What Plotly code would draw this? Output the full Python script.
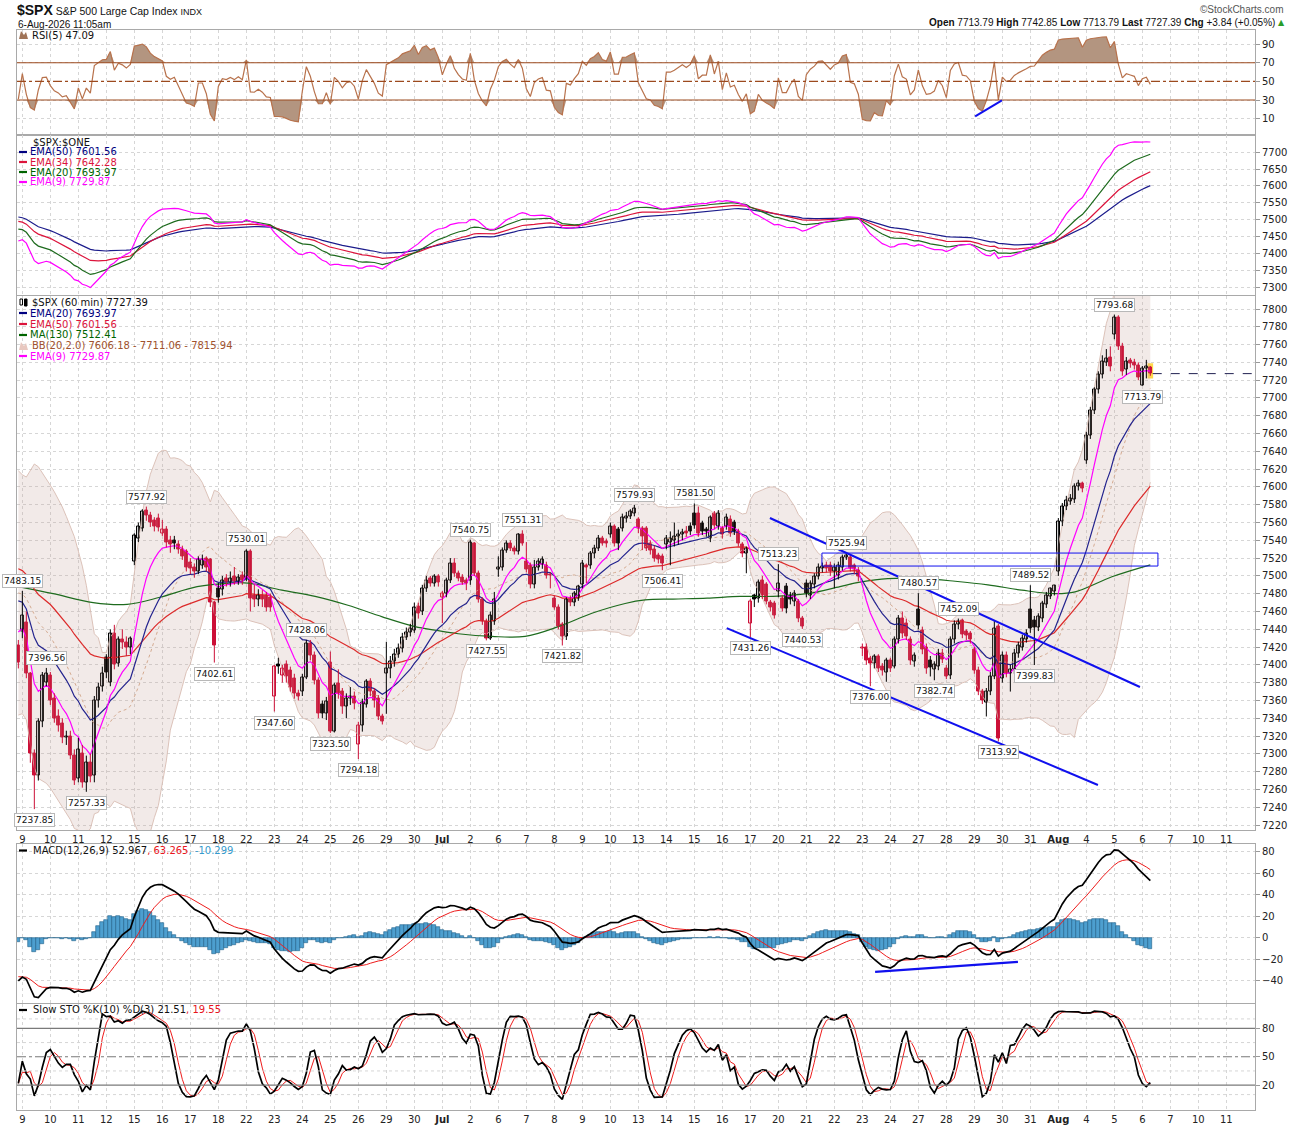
import numpy as np
import pandas as pd
import plotly.graph_objects as go

# ---- data --------------------------------------------------------------
# bar 0 is the last hourly bar of 8-Jun, each session has 7 hourly bars
day_labels = ["9", "10", "11", "12", "15", "16", "17", "18", "22", "23", "24", "25", "26",
              "29", "30", "<b>Jul</b>", "2", "6", "7", "8", "9", "10", "13", "14", "15", "16",
              "17", "20", "21", "22", "23", "24", "27", "28", "29", "30", "31", "<b>Aug</b>",
              "4", "5", "6", "7", "10", "11"]

opens = [
    7422, 7437, 7448, 7390, 7300, 7276, 7336, 7380, 7388, 7362,
    7342, 7334, 7318, 7320, 7298, 7272, 7300, 7268, 7290, 7276,
    7360, 7376, 7408, 7380, 7435, 7402, 7428, 7425, 7420, 7516,
    7542, 7553, 7574, 7568, 7562, 7565, 7548, 7552, 7540, 7540,
    7535, 7530, 7527, 7515, 7510, 7505, 7512, 7520, 7518, 7470,
    7486, 7485, 7497, 7493, 7499, 7494, 7500, 7497, 7528, 7478,
    7474, 7478, 7478, 7476, 7364, 7400, 7388, 7400, 7394, 7385,
    7368, 7370, 7386, 7424, 7411, 7383, 7356, 7345, 7403, 7325,
    7379, 7370, 7353, 7362, 7365, 7310, 7332, 7355, 7381, 7370,
    7362, 7342, 7390, 7396, 7404, 7412, 7418, 7431, 7436, 7439,
    7466, 7460, 7486, 7497, 7492, 7499, 7476, 7480, 7495, 7514,
    7503, 7498, 7495, 7495, 7536, 7503, 7473, 7449, 7430, 7449,
    7507, 7510, 7529, 7537, 7531, 7527, 7546, 7516, 7512, 7490,
    7510, 7513, 7512, 7502, 7475, 7465, 7445, 7432, 7473, 7470,
    7475, 7490, 7512, 7512, 7525, 7531, 7542, 7539, 7546, 7555,
    7552, 7553, 7564, 7567, 7570, 7563, 7553, 7553, 7537, 7530,
    7523, 7522, 7535, 7538, 7540, 7544, 7546, 7550, 7556, 7570,
    7570, 7559, 7552, 7542, 7570, 7556, 7553, 7555, 7563, 7560,
    7550, 7535, 7525, 7447, 7478, 7475, 7495, 7490, 7470, 7469,
    7482, 7475, 7488, 7478, 7471, 7471, 7452, 7492, 7478, 7490,
    7499, 7508, 7512, 7512, 7505, 7500, 7510, 7521, 7521, 7512,
    7506, 7418, 7420, 7407, 7402, 7409, 7398, 7392, 7405, 7398,
    7428, 7452, 7447, 7428, 7404, 7462, 7439, 7420, 7405, 7395,
    7398, 7413, 7396, 7388, 7428, 7445, 7450, 7437, 7435, 7417,
    7394, 7370, 7358, 7370, 7387, 7443, 7385, 7411, 7390, 7395,
    7413, 7420, 7428, 7462, 7450, 7442, 7452, 7468, 7477, 7482,
    7505, 7561, 7578, 7584, 7586, 7600, 7604, 7630, 7658, 7686,
    7709, 7726, 7740, 7745, 7771, 7791, 7758, 7732, 7742, 7740,
    7737, 7713.79, 7733, 7734]

highs = [
    7428, 7483.15, 7460, 7392, 7305, 7340, 7392, 7396.56, 7392, 7368,
    7350, 7340, 7326, 7326, 7305, 7318, 7310, 7298, 7300, 7365,
    7380, 7398, 7412, 7440, 7445, 7432, 7440, 7432, 7432, 7548,
    7560, 7575, 7577.92, 7572, 7566, 7570, 7563, 7556, 7545, 7545,
    7540, 7534, 7530, 7520, 7514, 7522, 7524, 7522, 7520, 7472,
    7492, 7500, 7502, 7505, 7510, 7502, 7505, 7530.01, 7530, 7490,
    7485, 7484, 7482, 7480, 7400, 7408, 7400, 7405, 7398, 7390,
    7372, 7390, 7428.06, 7428, 7415, 7386, 7360, 7364, 7415, 7380,
    7395, 7374, 7368, 7375, 7370, 7336, 7362, 7384, 7385, 7374,
    7366, 7345, 7426, 7410, 7418, 7424, 7436, 7442, 7446, 7470,
    7470, 7490, 7500, 7500, 7502, 7502, 7483, 7498, 7520, 7520,
    7506, 7502, 7498, 7540.75, 7538, 7506, 7476, 7452, 7460, 7482,
    7522, 7532, 7540, 7540, 7534, 7548, 7551.31, 7538, 7515, 7518,
    7520, 7522, 7516, 7504, 7478, 7468, 7448, 7476, 7478, 7483,
    7490, 7518, 7514, 7528, 7535, 7546, 7545, 7542, 7560, 7558,
    7555, 7570, 7572, 7575, 7579.93, 7566, 7556, 7556, 7540, 7534,
    7526, 7525, 7546, 7550, 7560, 7552, 7553, 7556, 7560, 7581.50,
    7578, 7562, 7555, 7568, 7573, 7574, 7556, 7570, 7568, 7563,
    7553, 7538, 7533, 7474, 7480, 7496, 7500, 7493, 7473, 7472,
    7513.23, 7478, 7492, 7482, 7484, 7474, 7455, 7496, 7495, 7503,
    7514, 7515, 7516, 7516, 7514, 7516, 7524, 7525.94, 7524, 7514,
    7510, 7424, 7424, 7410, 7412, 7412, 7402, 7408, 7408, 7432,
    7456, 7460, 7452, 7432, 7414, 7480.57, 7443, 7424, 7410, 7404,
    7418, 7418, 7400, 7432, 7450, 7452.09, 7452, 7440, 7438, 7420,
    7398, 7373, 7374, 7392, 7450, 7446, 7415, 7415, 7400, 7418,
    7426, 7434, 7440, 7489.52, 7455, 7458, 7472, 7482, 7487, 7490,
    7565, 7582, 7590, 7592, 7604, 7608, 7606, 7662, 7690, 7712,
    7730, 7748, 7755, 7758, 7793.68, 7793, 7762, 7746, 7745, 7744,
    7740, 7736, 7742.85, 7736]

lows = [
    7396, 7430, 7385, 7290, 7237.85, 7270, 7330, 7376, 7355, 7335,
    7325, 7312, 7310, 7294, 7265, 7268, 7262, 7257.33, 7268, 7268,
    7352, 7370, 7385, 7376, 7395, 7398, 7418, 7410, 7412, 7512,
    7538, 7550, 7562, 7555, 7550, 7550, 7545, 7532, 7526, 7530,
    7525, 7518, 7505, 7502, 7498, 7502, 7508, 7505, 7465, 7402.61,
    7470, 7478, 7488, 7488, 7490, 7490, 7490, 7494, 7460, 7465,
    7466, 7465, 7460, 7460, 7347.60, 7390, 7380, 7380, 7370, 7362,
    7360, 7365, 7384, 7405, 7378, 7340, 7340, 7338, 7323.50, 7324,
    7362, 7345, 7340, 7355, 7350, 7294.18, 7325, 7352, 7365, 7352,
    7338, 7333, 7345, 7385, 7398, 7408, 7414, 7428, 7432, 7436,
    7452, 7456, 7482, 7488, 7488, 7488, 7447, 7476, 7492, 7499,
    7494, 7490, 7484, 7490, 7500, 7470, 7445, 7427.55, 7428, 7445,
    7499, 7506, 7526, 7528, 7524, 7524, 7534, 7504, 7486, 7486,
    7506, 7508, 7497, 7486, 7462, 7440, 7421.82, 7428, 7466, 7466,
    7472, 7486, 7492, 7508, 7520, 7528, 7534, 7532, 7543, 7533,
    7529, 7550, 7560, 7564, 7567, 7548, 7529, 7528, 7524, 7516,
    7514, 7506.41, 7530, 7512, 7533, 7535, 7540, 7544, 7546, 7553,
    7544, 7546, 7544, 7538, 7553, 7552, 7542, 7552, 7544, 7546,
    7533, 7521, 7503, 7431.26, 7465, 7470, 7474, 7468, 7460, 7452,
    7476, 7460, 7458, 7468, 7466, 7448, 7440.53, 7476, 7474, 7486,
    7496, 7504, 7504, 7500, 7486, 7496, 7506, 7518, 7505, 7502,
    7494, 7410, 7400, 7376.00, 7396, 7392, 7388, 7381, 7392, 7396,
    7424, 7430, 7428, 7400, 7398, 7440, 7412, 7390, 7387, 7382.74,
    7394, 7402, 7384, 7384, 7424, 7440, 7430, 7428, 7424, 7390,
    7366, 7356, 7342, 7366, 7384, 7313.92, 7380, 7386, 7370, 7390,
    7408, 7416, 7425, 7436, 7399.83, 7438, 7448, 7464, 7474, 7478,
    7500, 7556, 7574, 7580, 7582, 7596, 7594, 7626, 7654, 7682,
    7705, 7722, 7736, 7730, 7766, 7754, 7725, 7726, 7734, 7732,
    7720, 7713.79, 7722, 7725]

closes = [
    7403, 7456, 7390, 7300, 7276, 7336, 7388, 7390, 7360, 7340,
    7332, 7318, 7320, 7298, 7270, 7305, 7268, 7290, 7275, 7360,
    7375, 7390, 7392, 7435, 7400, 7428, 7425, 7420, 7430, 7545,
    7555, 7572, 7568, 7560, 7556, 7554, 7552, 7538, 7535, 7537,
    7530, 7522, 7510, 7508, 7505, 7518, 7518, 7510, 7470, 7422,
    7476, 7495, 7493, 7497, 7494, 7498, 7495, 7528, 7475, 7474,
    7478, 7473, 7465, 7464, 7398, 7398, 7396, 7387, 7375, 7368,
    7364, 7386, 7424, 7411, 7383, 7345, 7345, 7359, 7325, 7377,
    7368, 7353, 7362, 7364, 7357, 7332, 7358, 7381, 7370, 7360,
    7342, 7336, 7396, 7404, 7412, 7418, 7431, 7436, 7441, 7465,
    7458, 7486, 7495, 7492, 7499, 7493, 7480, 7495, 7514, 7503,
    7497, 7493, 7492, 7538, 7503, 7473, 7449, 7430, 7456, 7474,
    7510, 7529, 7537, 7531, 7527, 7546, 7537, 7507, 7490, 7510,
    7516, 7518, 7501, 7500, 7465, 7443, 7432, 7473, 7470, 7480,
    7488, 7514, 7510, 7525, 7531, 7542, 7537, 7536, 7555, 7537,
    7537, 7566, 7567, 7572, 7576, 7553, 7544, 7531, 7529, 7520,
    7518, 7514, 7542, 7542, 7544, 7547, 7549, 7548, 7550, 7557,
    7548, 7550, 7550, 7566, 7557, 7570, 7546, 7566, 7548, 7550,
    7537, 7525, 7531, 7471, 7474, 7493, 7478, 7471, 7465, 7456,
    7491, 7463, 7463, 7473, 7480, 7452, 7443, 7480, 7492, 7499,
    7510, 7511, 7508, 7505, 7510, 7512, 7521, 7523, 7508, 7507,
    7499, 7420, 7405, 7402, 7409, 7396, 7394, 7405, 7396, 7428,
    7452, 7435, 7432, 7405, 7411, 7444, 7417, 7396, 7397, 7400,
    7413, 7406, 7387, 7428, 7445, 7449, 7434, 7433, 7428, 7394,
    7370, 7360, 7370, 7387, 7441, 7317, 7410, 7390, 7395, 7413,
    7422, 7430, 7435, 7441, 7442, 7454, 7469, 7478, 7486, 7489,
    7561, 7578, 7585, 7587, 7600, 7604, 7598, 7658, 7686, 7709,
    7726, 7741, 7744, 7735, 7791, 7758, 7730, 7741, 7739, 7737,
    7723.55, 7733, 7735, 7727.39]

# MA(130) line read at a few bars (its history starts before the window)
ma130_bars = [0, 8.7, 18.7, 27.2, 35.4, 44.7, 52.9, 57.4, 65.9, 74.2, 82.4, 91.0, 99.2,
              104.2, 110, 118.4, 126.7, 135, 143.4, 151.7, 156.7, 163.7, 172.2, 180.4,
              188.7, 197.2, 205.4, 210.4, 217.4, 226, 234.2, 242.4, 250.9, 259.2, 264.2,
              273.4, 283]
ma130_vals = [7488, 7480, 7470, 7468, 7476, 7488, 7492, 7492, 7484, 7477, 7467, 7454, 7443,
              7439, 7435, 7432, 7432, 7443, 7458, 7469, 7473, 7474, 7475, 7477,
              7477, 7480, 7488, 7493, 7497, 7497, 7494, 7490, 7484, 7480, 7482,
              7499, 7512.41]

# indicator levels at bar 0 (warm-up before the window)
ema_start = {9: 7437, 20: 7472, 34: 7495, 50: 7508}
macd_start = (7448, 7488, -36)   # EMA12, EMA26, signal
rsi_start = (6.3, 14.0)          # avg gain, avg loss
bb_start = (7485, 68)            # mid, sd

# swing labels on the price panel
lbl_bars = [1, 7, 4, 17, 32, 49, 57, 64, 72, 78, 85, 113, 117, 126, 136, 154, 161, 169,
            183, 190, 196, 207, 213, 225, 229, 235, 245, 253, 254, 274, 281]
lbl_side = ["up", "up", "dn", "dn", "up", "dn", "up", "dn", "up", "dn", "dn", "up", "dn",
            "up", "dn", "up", "dn", "up", "dn", "up", "dn", "up", "dn", "up", "dn", "up",
            "dn", "up", "dn", "up", "dn"]

o = np.array(opens, float)
h = np.array(highs, float)
l = np.array(lows, float)
c = np.array(closes, float)
n = len(c)
assert len(o) == len(h) == len(l) == n
idx = np.arange(n)
day_bars = [1 + 7 * d for d in range(len(day_labels))]

RED = "#cc1038"


def ema(vals, span, start):
    a = 2.0 / (span + 1)
    out = np.empty(len(vals))
    out[0] = start
    for i in range(1, len(vals)):
        out[i] = out[i - 1] + a * (vals[i] - out[i - 1])
    return out


ema9 = ema(c, 9, ema_start[9])
ema20 = ema(c, 20, ema_start[20])
ema34 = ema(c, 34, ema_start[34])
ema50 = ema(c, 50, ema_start[50])

# bollinger 20,2 (window padded with the starting level)
mid = np.empty(n)
sd = np.empty(n)
for i in range(n):
    w = c[max(0, i - 19):i + 1]
    k = 20 - len(w)
    m = (w.sum() + k * bb_start[0]) / 20
    var = (((w - m) ** 2).sum() + k * (bb_start[1] ** 2 + (bb_start[0] - m) ** 2)) / 20
    mid[i] = m
    sd[i] = np.sqrt(var)
bb_up = mid + 2 * sd
bb_lo = mid - 2 * sd

# RSI(5) wilder
ag, al = rsi_start
rsi = np.empty(n)
rsi[0] = 100 - 100 / (1 + ag / al)
for i in range(1, n):
    ch = c[i] - c[i - 1]
    ag = (ag * 4 + max(ch, 0)) / 5
    al = (al * 4 + max(-ch, 0)) / 5
    rsi[i] = 100 - 100 / (1 + ag / al)

# MACD 12,26,9
macd = ema(c, 12, macd_start[0]) - ema(c, 26, macd_start[1])
sig = ema(macd, 9, macd_start[2])
hist = macd - sig

# slow stochastic 10,3
hh = pd.Series(h).rolling(10, min_periods=1).max().values
ll = pd.Series(l).rolling(10, min_periods=1).min().values
fk = 100 * (c - ll) / (hh - ll)
slowk = pd.Series(fk).rolling(3, min_periods=1).mean().values
slowd = pd.Series(slowk).rolling(3, min_periods=1).mean().values

# ---- figure ---------------------------------------------------------------
fig = go.Figure()


def line(x, y, color, width=1.2, ax="", dash=None, shape="linear"):
    fig.add_trace(go.Scatter(x=x, y=y, mode="lines", xaxis="x" + ax, yaxis="y" + ax,
                             line=dict(color=color, width=width, dash=dash, shape=shape),
                             hoverinfo="skip"))


# RSI panel
fig.add_trace(go.Scatter(x=idx, y=np.full(n, 70.0), mode="lines", line=dict(width=0),
                         hoverinfo="skip"))
fig.add_trace(go.Scatter(x=idx, y=np.maximum(rsi, 70), mode="lines", line=dict(width=0),
                         fill="tonexty", fillcolor="#b39580", hoverinfo="skip"))
fig.add_trace(go.Scatter(x=idx, y=np.full(n, 30.0), mode="lines", line=dict(width=0),
                         hoverinfo="skip"))
fig.add_trace(go.Scatter(x=idx, y=np.minimum(rsi, 30), mode="lines", line=dict(width=0),
                         fill="tonexty", fillcolor="#b39580", hoverinfo="skip"))
line(idx, rsi, "#b8724c", 1.2)

# EMA panel
line(idx, ema50, "#1c1c8c", 1.2, "2")
line(idx, ema34, "#dc143c", 1.2, "2")
line(idx, ema20, "#1e6b1e", 1.2, "2")
line(idx, ema9, "#ff00ff", 1.2, "2")

# price panel
line(idx, bb_up, "#d8bcb2", 0.9, "3")
fig.add_trace(go.Scatter(x=idx, y=bb_lo, mode="lines", xaxis="x3", yaxis="y3",
                         line=dict(color="#d8bcb2", width=0.9), fill="tonexty",
                         fillcolor="rgba(196,160,150,0.22)", hoverinfo="skip"))
line(idx, mid, "#d4aa90", 1.0, "3", dash="dot")
line(ma130_bars, ma130_vals, "#1e6b1e", 1.2, "3", shape="spline")
line(idx, ema50, "#dc2a2a", 1.2, "3")
line(idx, ema20, "#23238e", 1.2, "3")
line(idx, ema9, "#ff00ff", 1.2, "3")

prev = np.r_[o[0], c[:-1]]
up = c >= o
blk = c >= prev
body_fill = np.where(up, "white", np.where(blk, "black", RED))
body_edge = np.where(blk, "black", RED)
for flag, col in [(True, "black"), (False, RED)]:
    xs, ys = [], []
    for i in np.where(blk == flag)[0]:
        xs += [i, i, None]
        ys += [l[i], h[i], None]
    line(xs, ys, col, 1.0, "3")
base = np.minimum(o, c)
height = np.maximum(np.abs(c - o), 0.8)
fig.add_trace(go.Bar(x=idx, y=height, base=base, width=0.6, xaxis="x3", yaxis="y3",
                     marker=dict(color=list(body_fill),
                                 line=dict(color=list(body_edge), width=1)),
                     hoverinfo="skip"))

# MACD panel
fig.add_trace(go.Bar(x=idx, y=hist, width=0.92, xaxis="x4", yaxis="y4",
                     marker=dict(color="#4d9fcf", line=dict(color="#1f5f8a", width=0.6)),
                     hoverinfo="skip"))
line(idx, sig, "#ee1c1c", 1.0, "4")
line(idx, macd, "black", 1.7, "4")

# slow stochastic panel
line(idx, slowd, "#ee1c1c", 1.0, "5")
line(idx, slowk, "black", 1.7, "5")

# ---- axes -------------------------------------------------------------------
# the page photo comes out squeezed vertically; lay out on a slightly taller
# canvas so that pixel rows line up with the reference
SY = 1125 / 1137.0
W, H = 1300, 1137
ML, MR = 17, 45
MT = 30 / SY
MB = H - 1110 / SY


def py(p):
    return (H - MB - p / SY) / (H - MT - MB)


def px(p):
    return (p - ML) / (W - ML - MR)


panels = {
    "": dict(dom=[py(134.7), 1.0], rng=[-7.1, 105], ticks=[10, 30, 50, 70, 90]),
    "2": dict(dom=[py(294.7), py(135.3)], rng=[7278, 7750], ticks=list(range(7300, 7701, 50))),
    "3": dict(dom=[py(830), py(295.5)], rng=[7214.4, 7815.2], ticks=list(range(7220, 7801, 20))),
    "4": dict(dom=[py(1003), py(844)], rng=[-60.5, 87.4], ticks=[-40, -20, 0, 20, 40, 60, 80]),
    "5": dict(dom=[0.0, py(1003.5)], rng=[-6.3, 106.3], ticks=[20, 50, 80]),
}
xr = [(ML - 18.33) / 4, (W - MR - 18.33) / 4]
for k, p in panels.items():
    fig.layout["xaxis" + k] = dict(
        domain=[0, 1], range=xr, anchor="y" + k, tickvals=day_bars, ticktext=day_labels,
        showticklabels=k in ("3", "5"), ticks="", showgrid=True, gridcolor="#d6d6d6",
        griddash="dot", gridwidth=1, showline=True, mirror=True, linecolor="#a9a9a9",
        zeroline=False, tickfont=dict(size=10, color="#222"), fixedrange=True)
    fig.layout["yaxis" + k] = dict(
        domain=p["dom"], range=p["rng"], anchor="x" + k, side="right", tickvals=p["ticks"],
        ticks="outside", ticklen=4, tickcolor="#999", showgrid=True, gridcolor="#d6d6d6",
        griddash="dot", showline=True, mirror=True, linecolor="#a9a9a9", zeroline=False,
        tickfont=dict(size=10, color="#222"), fixedrange=True)
fig.layout.yaxis5.showgrid = False

shapes = []


def hline(yv, ax, color, dash="solid", width=1.1):
    shapes.append(dict(type="line", xref="x%s domain" % ax, yref="y" + ax, x0=0, x1=1,
                       y0=yv, y1=yv, line=dict(color=color, width=width, dash=dash)))


hline(70, "", "#9c4a1e")
hline(30, "", "#9c4a1e")
hline(50, "", "#9c4a1e", "dashdot")
hline(80, "5", "#7a7a7a")
hline(20, "5", "#7a7a7a")
hline(50, "5", "#7a7a7a", "dashdot")
for v in (10, 35, 65, 90):
    hline(v, "5", "#d6d6d6", "dot", 1)

# drawn trend lines and box
blue = "#1010ee"
shapes += [
    dict(type="line", xref="x3", yref="y3", x0=187.9, y0=7565.1, x1=280.4, y1=7375.1,
         line=dict(color=blue, width=2)),
    dict(type="line", xref="x3", yref="y3", x0=177.1, y0=7441.4, x1=269.9, y1=7265.0,
         line=dict(color=blue, width=2)),
    dict(type="rect", xref="x3", yref="y3", x0=200.9, y0=7511.1, x1=284.9, y1=7525.7,
         line=dict(color=blue, width=1)),
    dict(type="line", xref="x", yref="y", x0=239.2, y0=12.5, x1=245.9, y1=29.7,
         line=dict(color=blue, width=2)),
    dict(type="line", xref="x4", yref="y4", x0=214.2, y0=-31.6, x1=249.9, y1=-22.3,
         line=dict(color=blue, width=2.2)),
    dict(type="line", xref="x3", yref="y3", x0=283.6, y0=c[-1], x1=xr[1], y1=c[-1],
         line=dict(color="#202050", width=1, dash="dash")),
    dict(type="rect", xref="x3", yref="y3", x0=282.55, y0=l[-1] - 2, x1=283.45,
         y1=h[-1] + 2, fillcolor="#ffd84a", line=dict(color="#ffd84a", width=2),
         layer="below"),
]

# legend dashes
legend_dash = [(152, "#000080"), (162, "#dc143c"), (172, "#006400"), (182, "#ff00ff"),
               (313, "#000080"), (324, "#dc143c"), (335, "#006400"), (356, "#ff00ff"),
               (850.5, "black"), (1010, "black")]
for yy, col in legend_dash:
    shapes.append(dict(type="line", xref="paper", yref="paper", x0=px(19), x1=px(27),
                       y0=py(yy), y1=py(yy), line=dict(color=col, width=2.2)))
# rsi / bb mountain icons
for yy, col in [(35, "#a07458"), (346, "#e8c8c0")]:
    x0, x1, y0 = px(19), px(28), py(yy + 4)
    shapes.append(dict(type="path", xref="paper", yref="paper", fillcolor=col,
                       line=dict(width=0),
                       path="M %f,%f L %f,%f L %f,%f L %f,%f L %f,%f Z" % (
                           x0, y0, px(21), py(yy - 4), px(24), py(yy), px(26),
                           py(yy - 3), x1, y0)))
# candle icon
shapes += [
    dict(type="rect", xref="paper", yref="paper", x0=px(20), x1=px(22.5), y0=py(305),
         y1=py(299), line=dict(color="black", width=1), fillcolor="white"),
    dict(type="rect", xref="paper", yref="paper", x0=px(24.5), x1=px(27), y0=py(306),
         y1=py(299), line=dict(color="black", width=1), fillcolor="black"),
]
fig.layout.shapes = shapes

ann = []


def text(x, y, t, color="#111", size=10, anchor="left", family=None):
    f = dict(size=size, color=color)
    if family:
        f["family"] = family
    ann.append(dict(x=px(x), y=py(y), xref="paper", yref="paper", text=t, showarrow=False,
                    xanchor=anchor, yanchor="middle", font=f))


hdr = "Liberation Sans"
text(15, 10, "<span style='font-size:14px'><b>$SPX</b></span> S&P 500 Large Cap Index "
     "<span style='font-size:9px'>INDX</span>", "#111", 10.5, family=hdr)
text(16, 24, "6-Aug-2026 11:05am", "#111", 10, family=hdr)
text(1286, 9, "©StockCharts.com", "#555", 10, "right", family=hdr)
text(1277, 23, "<b>Open</b> 7713.79 <b>High</b> 7742.85 <b>Low</b> 7713.79 <b>Last</b> 7727.39 "
     "<b>Chg</b> +3.84 (+0.05%)", "#111", 10, "right", family=hdr)
text(1287, 23, "▲", "#2a9d2a", 8, "right")

text(30, 35, "RSI(5) 47.09")
text(31, 142, "$SPX:$ONE")
text(28, 152, "EMA(50) 7601.56", "#000080")
text(28, 162, "EMA(34) 7642.28", "#dc143c")
text(28, 172, "EMA(20) 7693.97", "#006400")
text(28, 182, "EMA(9) 7729.87", "#ff00ff")
text(30, 302, "$SPX (60 min) 7727.39")
text(28, 313, "EMA(20) 7693.97", "#000080")
text(28, 324, "EMA(50) 7601.56", "#dc143c")
text(28, 335, "MA(130) 7512.41", "#006400")
text(30, 346, "BB(20,2.0) 7606.18 - 7711.06 - 7815.94", "#a0522d")
text(28, 356, "EMA(9) 7729.87", "#ff00ff")
text(31, 850.5, "MACD(12,26,9) 52.967<span style='color:#e8141c'>, 63.265</span>"
     "<span style='color:#3399cc'>, -10.299</span>")
text(31, 1010, "Slow STO %K(10) %D(3) 21.51<span style='color:#e8141c'>, 19.55</span>")

# swing high / low price labels
for b, s in zip(lbl_bars, lbl_side):
    val = h[b] if s == "up" else l[b]
    ann.append(dict(x=b, y=val, xref="x3", yref="y3", text="%.2f" % val, showarrow=False,
                    yshift=10 if s == "up" else -11, font=dict(size=9, color="#111"),
                    bgcolor="white", bordercolor="#b8b8b8", borderwidth=1, borderpad=1))
fig.layout.annotations = ann

fig.update_layout(width=W, height=H, margin=dict(l=ML, r=MR, t=MT, b=MB),
                  paper_bgcolor="white", plot_bgcolor="white", showlegend=False,
                  barmode="overlay", bargap=0,
                  font=dict(family="DejaVu Sans", size=10, color="#222"))

fig.write_html("out.html", config={"displayModeBar": False},
               post_script="document.body.style.margin='0px';"
                           "document.documentElement.style.overflow='hidden';"
                           "document.body.style.overflow='hidden';")
